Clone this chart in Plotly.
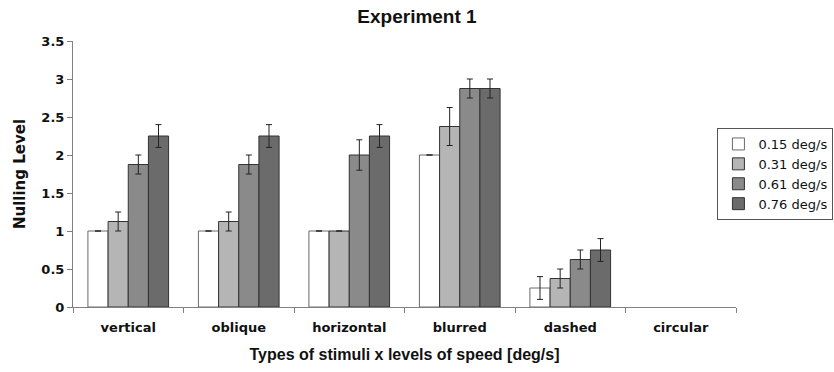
import plotly.graph_objects as go

categories = ["vertical", "oblique", "horizontal", "blurred", "dashed", "circular"]
series_names = ["0.15 deg/s", "0.31 deg/s", "0.61 deg/s", "0.76 deg/s"]

# circular has no visible bars in the reference (value 0)
v_015 = [1.0, 1.0, 1.0, 2.0, 0.25, None]
v_031 = [1.125, 1.125, 1.0, 2.375, 0.375, None]
v_061 = [1.875, 1.875, 2.0, 2.875, 0.625, None]
v_076 = [2.25, 2.25, 2.25, 2.875, 0.75, None]

e_015 = [None, None, None, None, 0.15, None]
e_031 = [0.125, 0.125, None, 0.25, 0.125, None]
e_061 = [0.125, 0.125, 0.2, 0.125, 0.125, None]
e_076 = [0.15, 0.15, 0.15, 0.125, 0.15, None]

y_ticks = [0, 0.5, 1, 1.5, 2, 2.5, 3, 3.5]
y_ticktext = ["0", "0.5", "1", "1.5", "2", "2.5", "3", "3.5"]

colors = ["#ffffff", "#b5b5b5", "#8a8a8a", "#6b6b6b"]
outline = ["#6a6a6a", "#333333", "#333333", "#333333"]

values = [v_015, v_031, v_061, v_076]
errors = [e_015, e_031, e_061, e_076]

fig = go.Figure()
for name, vals, errs, col, oc in zip(series_names, values, errors, colors, outline):
    fig.add_trace(go.Bar(
        x=categories, y=vals, name=name,
        marker=dict(color=col, line=dict(color=oc, width=1)),
        error_y=dict(type="data", array=errs, visible=True,
                     color="#222222", thickness=1, width=3),
    ))

fig.update_layout(
    width=834, height=372,
    margin=dict(l=73, r=98, t=41, b=65, autoexpand=False),
    paper_bgcolor="white", plot_bgcolor="white",
    barmode="group", bargap=0.27, bargroupgap=0,
    title=dict(text="<b>Experiment 1</b>", x=0.5, xref="container", xanchor="center",
               y=1 - 16 / 372, yref="container", yanchor="middle",
               font=dict(family="Liberation Sans", size=19, color="#111111")),
    font=dict(family="DejaVu Sans", color="#111111"),
    showlegend=True,
    legend=dict(x=0.972, xanchor="left", y=0.5, yanchor="middle",
                bgcolor="white", bordercolor="#555555", borderwidth=1,
                font=dict(family="DejaVu Sans", size=13, color="#111111"),
                tracegroupgap=0),
)

fig.update_xaxes(
    categoryorder="array", categoryarray=categories,
    showline=True, linecolor="#808080", linewidth=1,
    ticks="outside", tickson="boundaries", ticklen=5, tickcolor="#808080",
    tickfont=dict(family="DejaVu Sans", size=13, color="#111111", weight="bold"),
    ticklabelstandoff=8,
    title=dict(text="<b>Types of stimuli x levels of speed [deg/s]</b>",
               font=dict(family="Liberation Sans", size=16, color="#111111"), standoff=15),
    showgrid=False, zeroline=False,
)
fig.update_yaxes(
    range=[0, 3.5], tickmode="array", tickvals=y_ticks, ticktext=y_ticktext,
    showline=True, linecolor="#808080", linewidth=1,
    ticks="outside", ticklen=5, tickcolor="#808080",
    tickfont=dict(family="DejaVu Sans", size=13, color="#111111", weight="bold"),
    title=dict(text="<b>Nulling Level</b>",
               font=dict(family="DejaVu Sans", size=15, color="#111111"), standoff=12),
    showgrid=False, zeroline=False,
)

fig.write_html("out.html")
